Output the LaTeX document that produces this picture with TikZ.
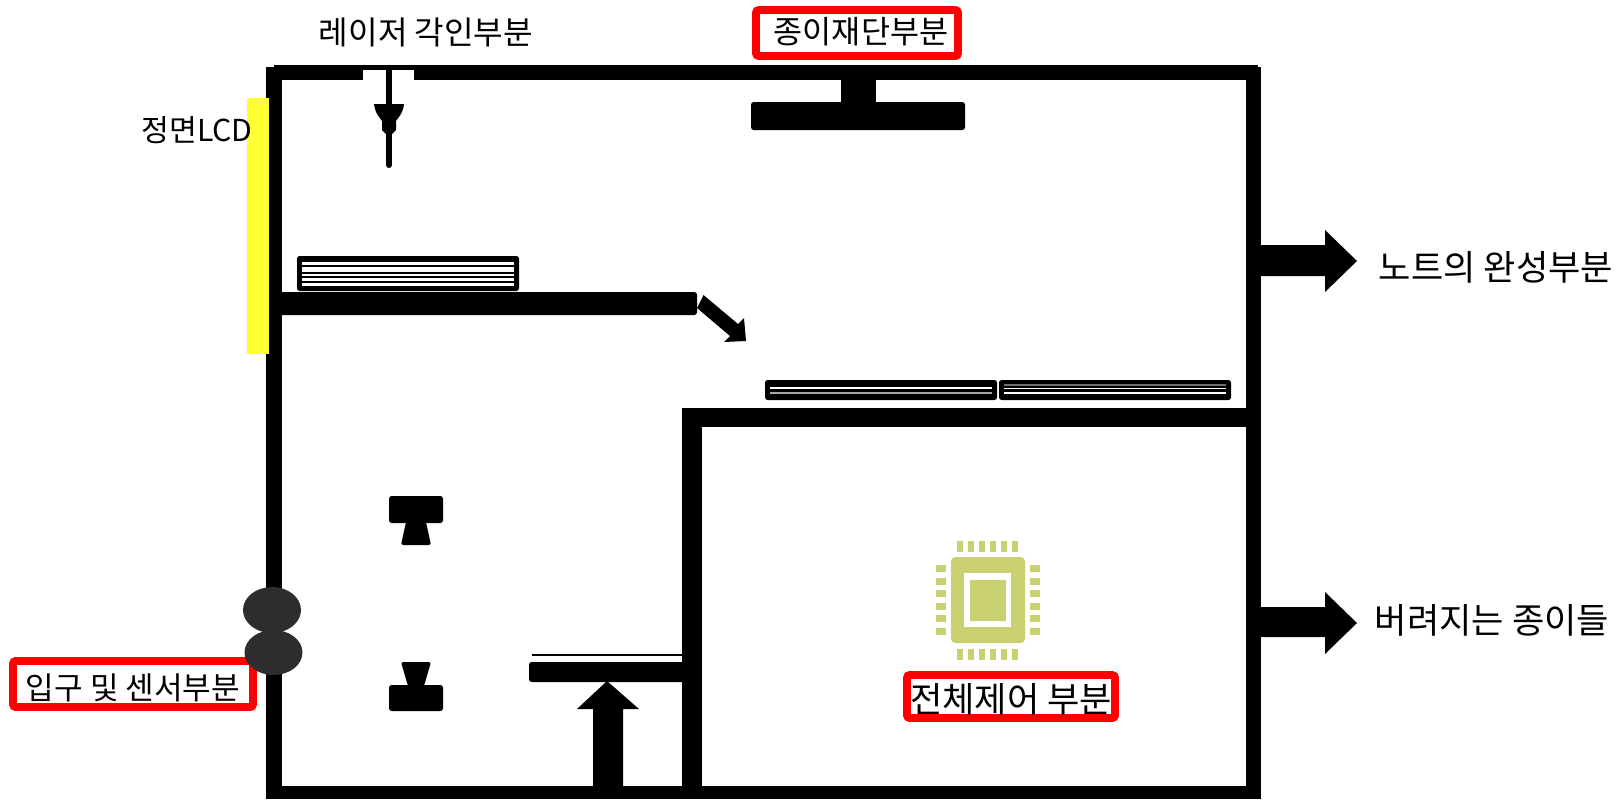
\documentclass[tikz,border=0pt]{standalone}
\usepackage{fontspec}
\setmainfont{Noto Sans CJK KR}
\definecolor{chipgreen}{HTML}{C8D06F}
\definecolor{rollgray}{HTML}{2D2D2D}
\definecolor{lcdyellow}{HTML}{FFFF33}
\tikzset{
  wall/.style={fill=black,draw=none},
  part/.style={fill=black,draw=none,rounded corners=1.5pt},
  redbox/.style={draw=red,line width=4.4pt,rounded corners=1.5pt,fill=white},
  label/.style={inner sep=0pt,font=\fontsize{18}{20}\selectfont},
  biglabel/.style={inner sep=0pt,font=\fontsize{20}{22}\selectfont},
  chippart/.style={fill=chipgreen,draw=none}
}
\begin{document}
\begin{tikzpicture}[x=0.02cm,y=-0.02cm]
          \useasboundingbox (0,0) rectangle (1617,799);

          % Outer walls
          \fill[wall] (266,67) rectangle (282,799);
          \fill[wall] (274,65) rectangle (363,80);
          \fill[wall] (363,65) rectangle (414,70);
          \fill[wall] (414,65) rectangle (1258,80);
          \fill[wall] (1246,67) rectangle (1261,799);
          \fill[wall] (266,786) rectangle (1261,799);

          % Inner walls
          \fill[wall] (682,408) rectangle (1261,427);
          \fill[wall] (682,408) rectangle (702,799);

          % Front LCD
          \fill[lcdyellow] (247,98) rectangle (269,354);
          \node[label,anchor=east,font=\fontsize{17.2}{20}\selectfont] (lcd) at (253,130) {정면LCD};

          % Laser head
          \draw[line width=3.4pt,line cap=round] (389,70) -- (389,165);
          \fill (374,104) -- (404,104) .. controls (403,114) and (397,119) .. (396,121)
            -- (396,130) -- (392,134) -- (386,134) -- (382,130) -- (382,121)
            .. controls (381,119) and (375,114) .. (374,104) -- cycle;
          \node[label,font=\fontsize{18.3}{20}\selectfont] (laser) at (426,32) {레이저 각인부분};

          % Paper cutter
          \fill[wall] (841,80) rectangle (876,103);
          \fill[part] (751,102) rectangle (965,130);
          \draw[redbox] (756,10) rectangle (958,56);
          \node[label] (cutter) at (861,32) {종이재단부분};

          % Upper paper stack and shelf
          \fill[part] (297,256) rectangle (519,291);
          \fill[white] (302,262) rectangle (514,286);
          \foreach \y in {266,273,277,282}
            \draw[line width=0.8pt] (302,\y) -- (514,\y);
          \fill[part] (275,292) rectangle (697,315);
          \fill (703.5,295) -- (738,324) -- (744,318) -- (746,341) -- (724,342)
            -- (730,336) -- (697,308) -- cycle;

          % Finished paper stacks
          \fill[part] (765,380) rectangle (997,400);
          \fill[part] (999,380) rectangle (1231,400);
          \draw[white,line width=0.7pt] (770,388) -- (992,388);
          \draw[white!65!black,line width=0.7pt] (770,393) -- (992,393);
          \draw[white!45!black,line width=0.6pt] (1004,385) -- (1226,385);
          \draw[white,line width=0.7pt] (1004,388.5) -- (1226,388.5);
          \draw[white,line width=0.7pt] (1004,393) -- (1226,393);

          % Input rollers and sensors
          \draw[redbox] (13,661) rectangle (253,707);
          \node[label,font=\fontsize{17.7}{20}\selectfont] (input) at (133,688) {입구 및 센서부분};
          \fill[rollgray] (272,610) ellipse (29 and 23);
          \fill[rollgray] (273.5,652.5) ellipse (29 and 22.5);

          \fill[part] (389,496) rectangle (443,523);
          \fill[rounded corners=1pt] (406,522) -- (426,522) -- (431,545) -- (401,545) -- cycle;
          \fill[part] (389,685) rectangle (443,711);
          \fill[rounded corners=1pt] (401,662) -- (431,662) -- (424,686) -- (408,686) -- cycle;

          % Lift table
          \draw[line width=1pt] (532,655) -- (682,655);
          \fill[part] (529,662) rectangle (690,682);
          \fill (607,681) -- (639,709) -- (623,709) -- (623,786) -- (593,786)
            -- (593,709) -- (577,709) -- cycle;

          % Controller chip
          \fill[chippart,rounded corners=2.5pt] (951,557) rectangle (1025,643);
          \fill[white] (964,573) rectangle (1011,627);
          \fill[chippart] (970,580) rectangle (1006,621);
          \foreach \i in {0,...,5} {
            \fill[chippart] ({957+10.93*\i},541) rectangle ({963+10.93*\i},552);
            \fill[chippart] ({957+10.93*\i},649) rectangle ({963+10.93*\i},660);
            \fill[chippart] (936,{565+12.6*\i}) rectangle (946,{572+12.6*\i});
            \fill[chippart] (1030,{565+12.6*\i}) rectangle (1040,{572+12.6*\i});
          }
          \draw[redbox] (907,675) rectangle (1115,718);
          \node[biglabel] (control) at (1011,699) {전체제어 부분};

          % Output arrows
          \fill (1261,245) -- (1325,245) -- (1325,230) -- (1357,261) -- (1325,292)
            -- (1325,276) -- (1261,276) -- cycle;
          \fill (1261,607) -- (1325,607) -- (1325,592) -- (1357,623) -- (1325,654)
            -- (1325,637) -- (1261,637) -- cycle;
          \node[biglabel] (notebook) at (1496,267) {노트의 완성부분};
          \node[biglabel] (waste) at (1492,620) {버려지는 종이들};
        \end{tikzpicture}
\end{document}
